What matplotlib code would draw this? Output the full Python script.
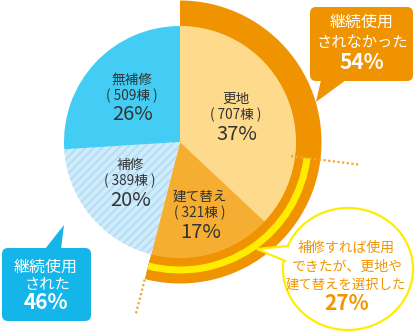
import numpy as np
import matplotlib
matplotlib.use('Agg')
import matplotlib.pyplot as plt
from matplotlib.patches import Wedge, FancyBboxPatch, Polygon, Ellipse

plt.rcParams['font.family'] = ['Noto Sans CJK JP', 'DejaVu Sans']
plt.rcParams['hatch.linewidth'] = 1.4

# pie data (clockwise from 12 o'clock)
labels = ['更地', '建て替え', '補修', '無補修']
counts = [707, 321, 389, 509]
shares = [37, 17, 20, 26]
colors = ['#fdda8c', '#f5ae31', '#d0ebfa', '#43cdf4']
txt_pos = [(236, 99), (200, 197), (130, 165), (132, 80)]

# outer rings
not_used = 54   # 更地 + 建て替え
used = 46
could_use = 27  # could have been repaired

W, H = 415, 332
cx, cy = 180, H - 142
R = 116

fig = plt.figure(figsize=(4.15, 3.32), dpi=100)
ax = fig.add_axes([0, 0, 1, 1])
ax.set_xlim(0, W)
ax.set_ylim(0, H)
ax.set_aspect('equal')
ax.axis('off')

def Y(y):
    return H - y

# angles
a_split = 90 - 360 * not_used / 100.0

# outer blue ring
ax.add_patch(Wedge((cx, cy), 135.5, a_split, 90, width=14, color='#00b5ea', lw=0))
# outer orange ring
ax.add_patch(Wedge((cx, cy), 141.5, a_split, 90, width=26, color='#f09300', lw=0))

# pie
start = 90
for i in range(len(shares)):
    th = 360 * shares[i] / 100.0
    ax.add_patch(Wedge((cx, cy), R, start - th, start, color=colors[i], lw=0))
    if labels[i] == '補修':
        ax.add_patch(Wedge((cx, cy), R, start - th, start, facecolor='none',
                           edgecolor='#b3ddf7', hatch='////', lw=0))
    start -= th

# yellow arc (27%)
ax.add_patch(Wedge((cx, cy), 131.5, a_split, a_split + 360 * could_use / 100.0,
                   width=7, color='#ffec00', lw=0))

# dotted lines
dot = dict(color='#f4a533', lw=1.6, ls=(0, (1, 1.1)), solid_capstyle='butt')
for ang, r0, r1 in [(a_split, 142, 177), (a_split + 360 * could_use / 100.0, 112, 180)]:
    t = np.radians(ang)
    ax.plot([cx + r0 * np.cos(t), cx + r1 * np.cos(t)],
            [cy + r0 * np.sin(t), cy + r1 * np.sin(t)], **dot)

# pie labels
for i in range(len(shares)):
    x, y = txt_pos[i]
    ax.text(x, Y(y), labels[i], ha='center', va='center', fontsize=9.8, color='#333333')
    ax.text(x, Y(y + 16), '( %d棟 )' % counts[i], ha='center', va='center', fontsize=9.8, color='#333333')
    ax.text(x + 1, Y(y + 35), '%d%%' % shares[i], ha='center', va='center', fontsize=14.5, color='#333333')

# orange callout
ax.add_patch(FancyBboxPatch((310, Y(81)), 103, 74, boxstyle='round,pad=0,rounding_size=6',
                            color='#f09300', lw=0))
ax.add_patch(Polygon([(321, Y(80)), (346, Y(80)), (316, Y(102))], closed=True, color='#f09300', lw=0))
ax.text(362, Y(22.5), '継続使用', ha='center', va='center', fontsize=11.5, color='white')
ax.text(362, Y(42.5), 'されなかった', ha='center', va='center', fontsize=11, color='white')
ax.text(362, Y(62.5), '%d%%' % not_used, ha='center', va='center', fontsize=15, color='white', weight='bold')

# blue callout
ax.add_patch(FancyBboxPatch((2, Y(321)), 89, 73, boxstyle='round,pad=0,rounding_size=6',
                            color='#14b5e8', lw=0))
ax.add_patch(Polygon([(45, Y(249)), (61, Y(249)), (64, Y(225))], closed=True, color='#14b5e8', lw=0))
ax.text(46, Y(267.5), '継続使用', ha='center', va='center', fontsize=11.5, color='white')
ax.text(47, Y(284), 'された', ha='center', va='center', fontsize=11, color='white')
ax.text(46, Y(302.5), '%d%%' % used, ha='center', va='center', fontsize=15, color='white', weight='bold')

# yellow callout
ax.add_patch(Ellipse((348, Y(269)), 130, 122, facecolor='white', edgecolor='#ffec00', lw=1.6))
tail = [(288, Y(246)), (257, Y(249)), (285, Y(261))]
ax.add_patch(Polygon([(291, Y(246)), (257, Y(249)), (288, Y(261))], closed=True, color='white', lw=0))
ax.plot([p[0] for p in tail], [p[1] for p in tail], color='#ffec00', lw=1.6, solid_joinstyle='miter')
oc = '#f29600'
ax.text(346, Y(248), '補修すれば使用', ha='center', va='center', fontsize=10, color=oc)
ax.text(347, Y(267), 'できたが、更地や', ha='center', va='center', fontsize=10, color=oc)
ax.text(346, Y(285), '建て替えを選択した', ha='center', va='center', fontsize=9.6, color=oc)
ax.text(347, Y(303), '%d%%' % could_use, ha='center', va='center', fontsize=15, color=oc, weight='bold')

fig.savefig('out.png', dpi=100)
